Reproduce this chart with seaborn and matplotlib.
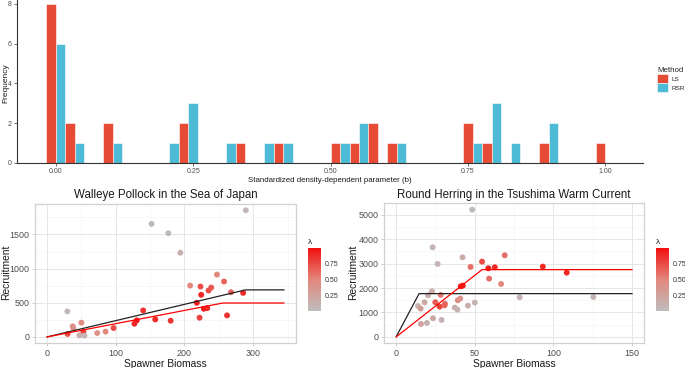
import numpy as np
import pandas as pd
import matplotlib
matplotlib.use("Agg")
import matplotlib.pyplot as plt
from matplotlib.colors import LinearSegmentedColormap, Normalize
from matplotlib.ticker import MultipleLocator
import seaborn as sns

# ---- histogram data: b value (bin centre) and counts per method ----
b_vals = [0.000, 0.034, 0.103, 0.207, 0.241, 0.310, 0.345, 0.379, 0.414,
          0.517, 0.552, 0.586, 0.621, 0.759, 0.793, 0.828, 0.897, 1.000]
ls_counts = [8, 2, 2, 0, 2, 0, 1, 0, 1, 1, 1, 2, 1, 2, 1, 0, 1, 1]
rsr_counts = [6, 1, 1, 1, 3, 1, 0, 1, 1, 1, 2, 0, 1, 1, 3, 1, 2, 0]

# ---- Walleye Pollock ----
pol_ssb = [289.3, 152.2, 176.6, 194.1, 29.8, 208.3, 247.3, 223.4, 257.6, 235.1,
           239.0, 224.4, 267.8, 285.4, 218.0, 228.3, 233.2, 222.0, 262.0, 140.0,
           157.6, 180.0, 130.7, 127.3, 97.0, 85.4, 73.2, 50.2, 37.6, 38.5,
           53.2, 30.2, 47.3, 54.6]
pol_rec = [1854, 1655, 1519, 1233, 374, 752, 913, 738, 811, 680,
           723, 617, 655, 646, 500, 413, 422, 282, 316, 388,
           257, 238, 243, 194, 131, 78, 58, 209, 155, 126,
           73, 44, 24, 19]
pol_lam = [0.05, 0.05, 0.05, 0.12, 0.05, 0.5, 0.5, 0.75, 0.65, 0.75,
           0.7, 0.9, 0.65, 0.9, 0.95, 0.95, 0.9, 0.8, 0.85, 0.85,
           0.9, 0.85, 0.95, 0.9, 0.75, 0.5, 0.4, 0.45, 0.45, 0.4,
           0.8, 0.75, 0.15, 0.08]
pol_ls_x, pol_ls_y = [0, 288.8, 345], [0, 689, 689]
pol_rsr_x, pol_rsr_y = [0, 256, 345], [0, 497, 497]

# ---- Round Herring ----
her_ssb = [48.3, 23.2, 26.4, 42.2, 69.0, 54.6, 47.3, 58.6, 62.7, 93.2,
           108.4, 59.1, 66.7, 41.1, 42.4, 78.5, 125.3, 22.8, 20.3, 28.3,
           13.9, 15.6, 18.1, 24.9, 27.6, 31.0, 30.8, 39.2, 40.7, 37.3,
           39.0, 45.6, 50.0, 15.8, 19.6, 23.4, 28.9]
her_rec = [5204, 3665, 2984, 3256, 3338, 3079, 2861, 2807, 2847, 2875,
           2629, 2384, 2166, 2071, 2098, 1621, 1635, 1866, 1703, 1717,
           1267, 1158, 1417, 1417, 1240, 1362, 1294, 1499, 1567, 1199,
           1117, 1281, 1403, 531, 572, 763, 695]
her_lam = [0.05, 0.08, 0.08, 0.15, 0.6, 0.75, 0.6, 0.95, 0.9, 0.9,
           0.9, 0.6, 0.5, 0.95, 0.95, 0.1, 0.1, 0.15, 0.15, 0.55,
           0.1, 0.3, 0.2, 0.7, 0.8, 0.6, 0.65, 0.45, 0.4, 0.15,
           0.1, 0.15, 0.1, 0.25, 0.1, 0.2, 0.1]
her_ls_x, her_ls_y = [0, 14.6, 150], [0, 1771, 1771]
her_rsr_x, her_rsr_y = [0, 54.6, 150], [0, 2752, 2752]

W, H = 685, 368
sns.set_theme(style="white")
plt.rcParams['font.family'] = ['Liberation Sans', 'DejaVu Sans']
fig = plt.figure(figsize=(W / 100, H / 100), dpi=100)


def px_axes(x0, y0, x1, y1):
    return fig.add_axes([x0 / W, 1 - y1 / H, (x1 - x0) / W, (y1 - y0) / H])


# ================= top histogram =================
ax1 = px_axes(16.5, 0, 643, 162.7)
hist_df = pd.DataFrame({
    "b": b_vals * 2,
    "count": ls_counts + rsr_counts,
    "Method": ["LS"] * len(b_vals) + ["RSR"] * len(b_vals),
})
edges = [float(e) for e in np.linspace(-0.5 / 29, 29.5 / 29, 31)]
sns.histplot(data=hist_df, x="b", hue="Method", weights="count", bins=edges,
             multiple="dodge", shrink=1, hue_order=["LS", "RSR"],
             palette={"LS": "#E64B35", "RSR": "#4DBBD5"}, alpha=1,
             edgecolor="#ffffff", linewidth=0.4, ax=ax1)
ax1.set_xlim(-0.0715, 1.0685)
ax1.set_ylim(0, 8.2)
ax1.set_xticks([0, 0.25, 0.5, 0.75, 1.0])
ax1.set_xticklabels(["0.00", "0.25", "0.50", "0.75", "1.00"])
ax1.set_yticks([0, 2, 4, 6, 8])
ax1.tick_params(axis="both", labelsize=5.0, labelcolor="#4D4D4D", length=2,
                width=0.5, color="#333333", pad=1.5, left=True, bottom=True)
for s in ["top", "right"]:
    ax1.spines[s].set_visible(False)
for s in ["left", "bottom"]:
    ax1.spines[s].set_color("#333333")
    ax1.spines[s].set_linewidth(0.8)
ax1.set_xlabel("Standardized density-dependent parameter (b)", fontsize=5.7,
               color="#1a1a1a", labelpad=1.5)
ax1.set_ylabel("Frequency", fontsize=6.0, color="#1a1a1a")
ax1.yaxis.set_label_coords(9 / W, 1 - 83 / H, transform=fig.transFigure)
sns.move_legend(ax1, loc="upper left", bbox_to_anchor=(652.5 / W, 1 - 63 / H),
                bbox_transform=fig.transFigure, frameon=False, title="Method",
                fontsize=4.6, title_fontsize=5.7, handlelength=1.75,
                handleheight=1.75, labelspacing=0.0, handletextpad=0.5,
                borderpad=0.2, alignment="left")

# ================= bottom scatter panels =================
lam_cmap = LinearSegmentedColormap.from_list(
    "lam", ["#BEBEBE", "#E2877C", "#F21010"])
lam_norm = Normalize(0, 1)


def sr_panel(ax, cax, ssb, rec, lam, ls_xy, rsr_xy, title, xlim, ylim,
             xmajor, ymajor, ylab_x):
    df = pd.DataFrame({"ssb": ssb, "rec": rec, "lam": lam})
    ax.set_facecolor("white")
    sns.scatterplot(data=df, x="ssb", y="rec", hue="lam", palette=lam_cmap,
                    hue_norm=lam_norm, s=18, linewidth=0, legend=False,
                    ax=ax, zorder=3)
    sns.lineplot(x=ls_xy[0], y=ls_xy[1], color="#222222", linewidth=0.9,
                 ax=ax, zorder=4)
    sns.lineplot(x=rsr_xy[0], y=rsr_xy[1], color="#FF0000", linewidth=0.9,
                 ax=ax, zorder=4)
    ax.set_xlim(*xlim)
    ax.set_ylim(*ylim)
    ax.xaxis.set_major_locator(MultipleLocator(xmajor))
    ax.yaxis.set_major_locator(MultipleLocator(ymajor))
    ax.xaxis.set_minor_locator(MultipleLocator(xmajor / 2))
    ax.yaxis.set_minor_locator(MultipleLocator(ymajor / 2))
    ax.grid(which="major", color="#E6E6E6", linewidth=0.7)
    ax.grid(which="minor", color="#F2F2F2", linewidth=0.4)
    ax.set_axisbelow(True)
    for s in ax.spines.values():
        s.set_visible(True)
        s.set_color("#D0D0D0")
        s.set_linewidth(0.9)
    ax.tick_params(axis="both", which="major", labelsize=6.4,
                   labelcolor="#4D4D4D", length=2.5, width=0.5,
                   color="#BBBBBB", pad=1.5, left=True, bottom=True)
    ax.tick_params(which="minor", length=0)
    ax.set_xlabel("Spawner Biomass", fontsize=7.4, color="#1a1a1a", labelpad=1)
    ax.set_ylabel("Recruitment", fontsize=7.4, color="#1a1a1a")
    ax.yaxis.set_label_coords(ylab_x / W, 1 - 272 / H,
                              transform=fig.transFigure)
    ax.set_title(title, fontsize=8.3, color="#1a1a1a", pad=4)

    sm = plt.cm.ScalarMappable(norm=lam_norm, cmap=lam_cmap)
    cb = fig.colorbar(sm, cax=cax)
    cb.outline.set_visible(False)
    cb.set_ticks([0.25, 0.5, 0.75])
    cb.set_ticklabels(["0.25", "0.50", "0.75"])
    cax.tick_params(labelsize=5, labelcolor="#333333", color="white",
                    direction="in", length=2.5, width=0.5, pad=2.5)
    cax.set_title("λ", fontsize=6, color="#1a1a1a", loc="left", pad=3)


axL = px_axes(35, 204, 296, 343.3)
caxL = px_axes(308, 248.3, 321, 311)
sr_panel(axL, caxL, pol_ssb, pol_rec, pol_lam, (pol_ls_x, pol_ls_y),
         (pol_rsr_x, pol_rsr_y), "Walleye Pollock in the Sea of Japan",
         (-17.25, 362.25), (-92.7, 1946), 100, 500, 11)

axR = px_axes(384.3, 203.3, 644, 343.3)
caxR = px_axes(656, 248.3, 669, 311)
sr_panel(axR, caxR, her_ssb, her_rec, her_lam, (her_ls_x, her_ls_y),
         (her_rsr_x, her_rsr_y), "Round Herring in the Tsushima Warm Current",
         (-7.5, 157.5), (-260, 5464), 50, 1000, 358)

fig.savefig("out.png", dpi=100)
